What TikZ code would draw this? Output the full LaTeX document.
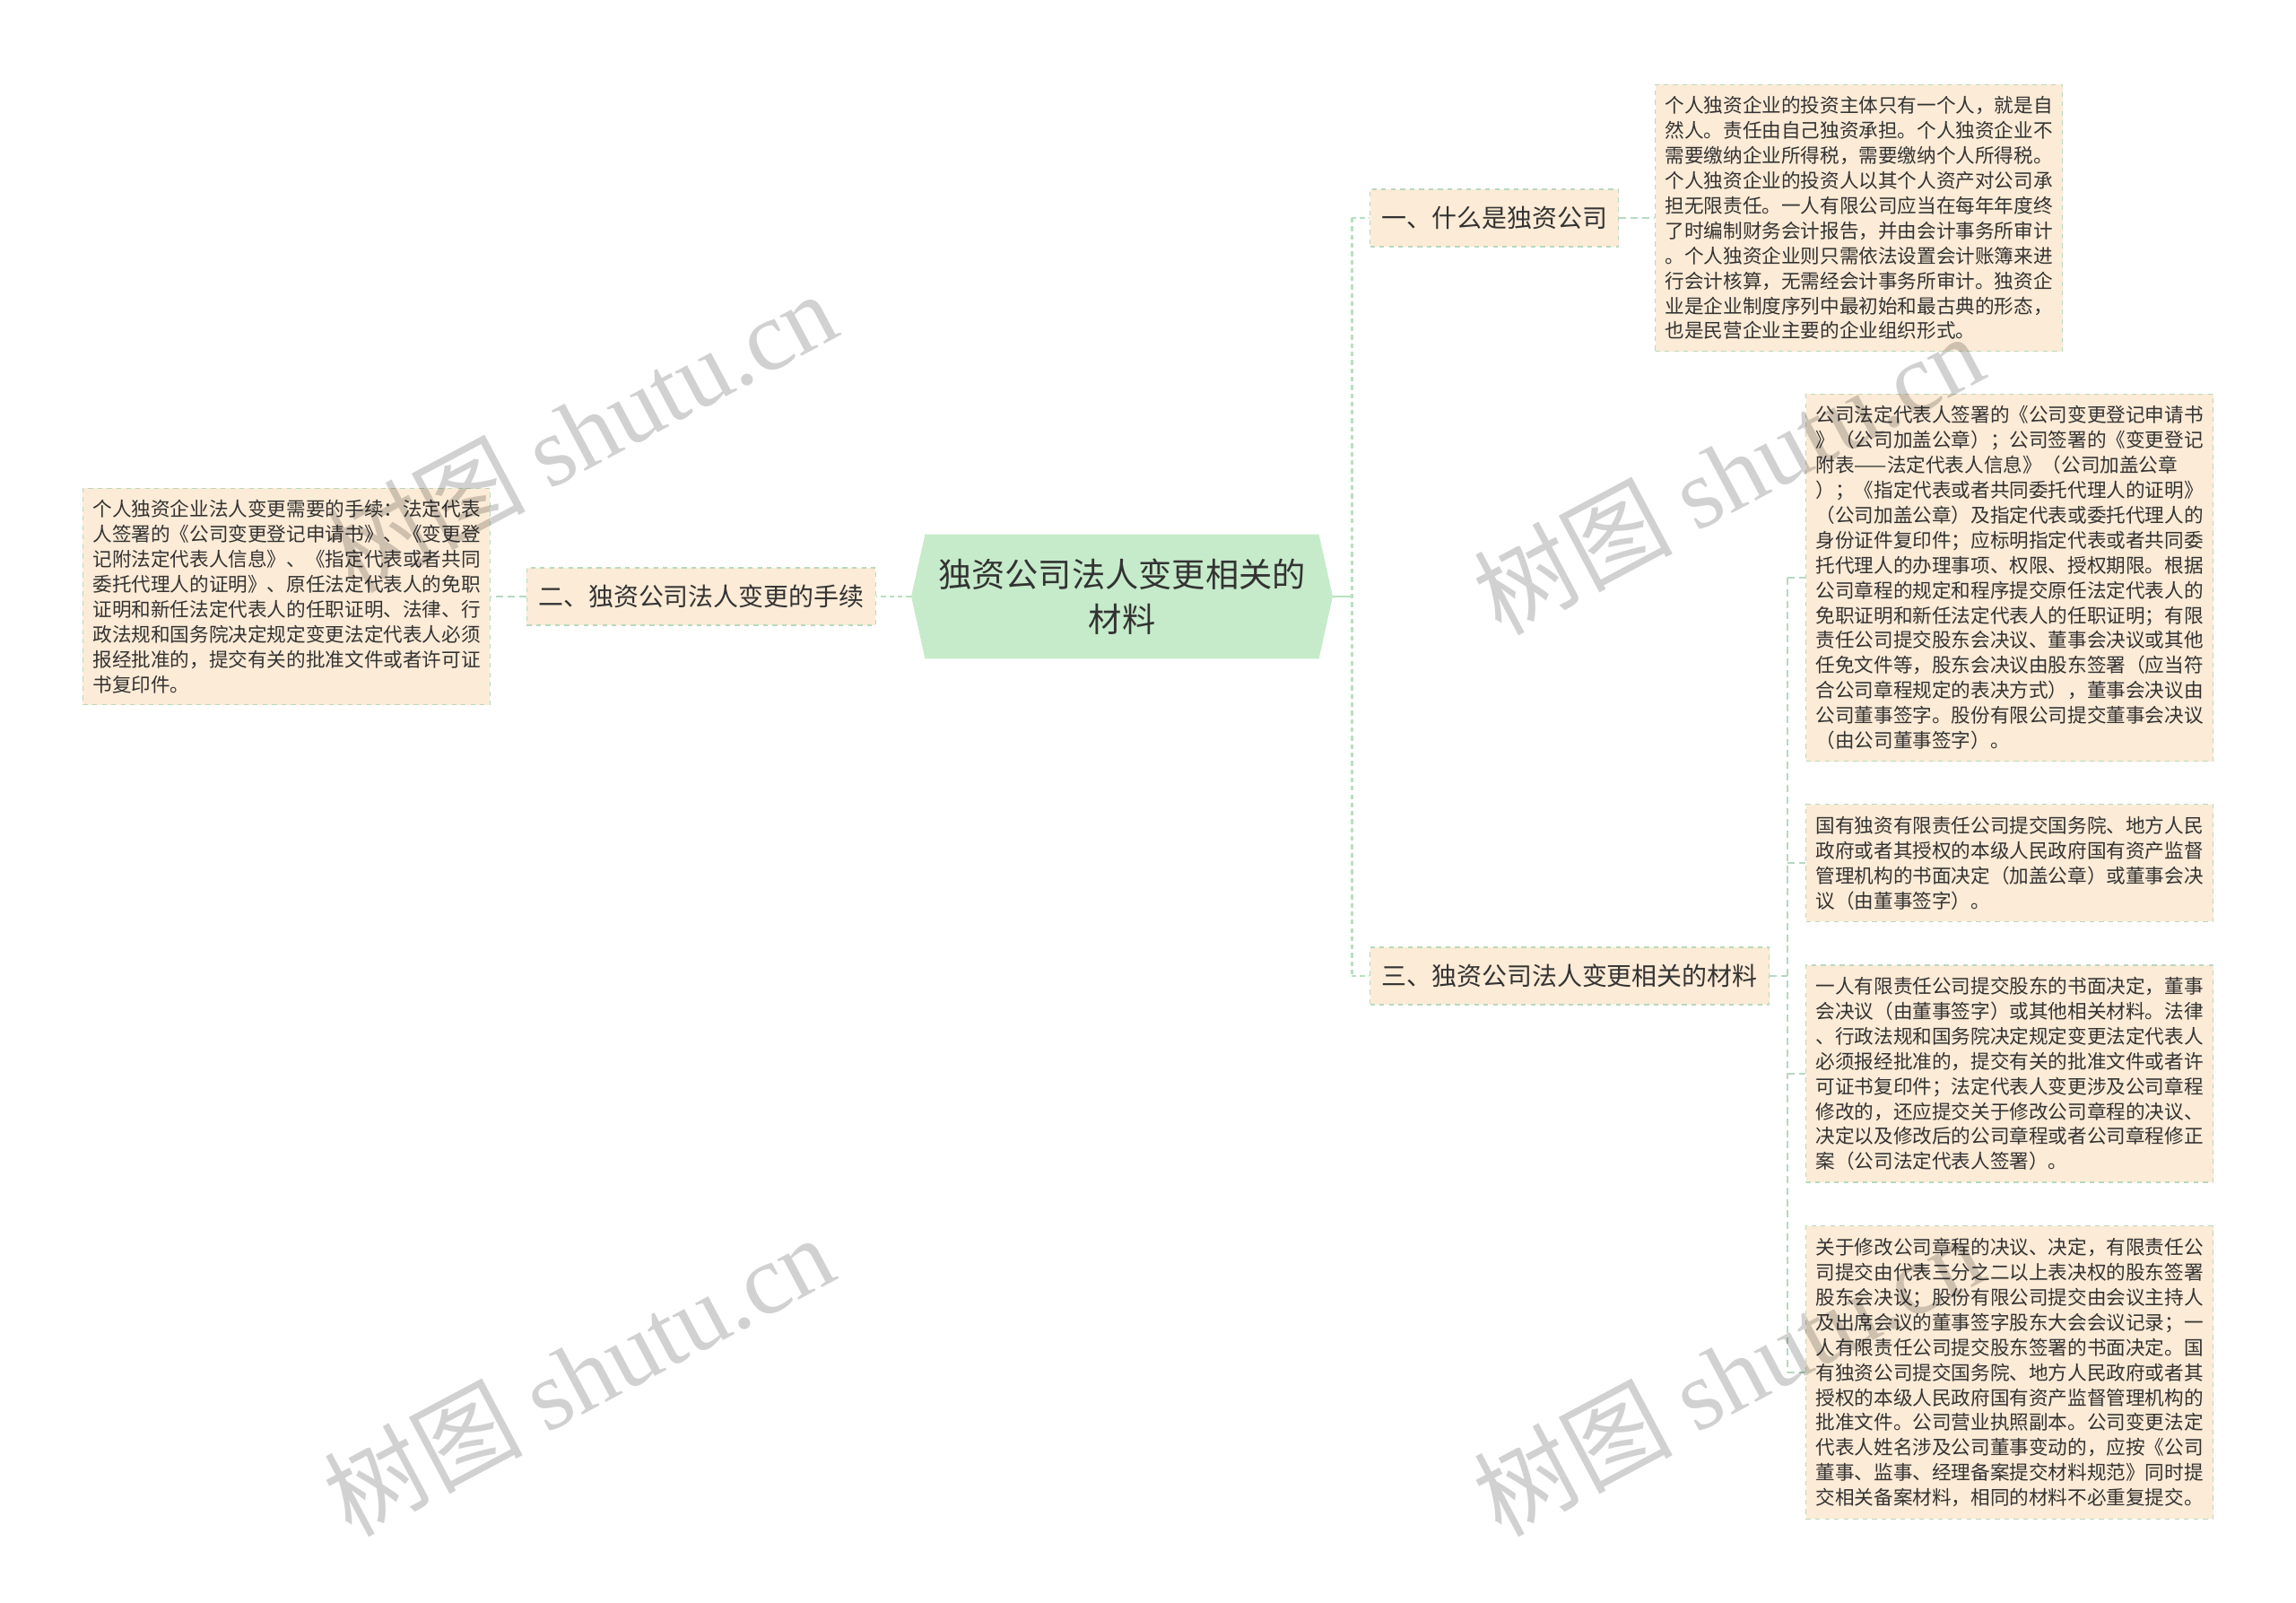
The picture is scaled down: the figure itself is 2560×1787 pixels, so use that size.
\documentclass[tikz,border=0pt]{standalone}
\usepackage{fontspec}
\setmainfont{Noto Sans CJK SC}
\newfontfamily\wmfont{Liberation Serif}
\usetikzlibrary{shapes.symbols}
\definecolor{rootfill}{HTML}{C6EBCA}
\definecolor{leaffill}{HTML}{FCEBD6}
\definecolor{leafborder}{HTML}{B7D9BF}
\definecolor{linkgreen}{HTML}{B5E2BC}
\definecolor{txtgray}{HTML}{333333}

\tikzset{
  rootnode/.style={shape=signal, signal to=west and east, signal pointer angle=155,
    fill=rootfill, text=txtgray, align=center, minimum width=9.4cm, minimum height=2.78cm,
    inner sep=2pt, font=\fontsize{21.2}{28.8}\selectfont},
  branchnode/.style={fill=leaffill, draw=leafborder, dashed, line width=0.6pt, text=txtgray,
    minimum height=1.28cm, inner xsep=7.4pt, font=\fontsize{15.9}{18}\selectfont},
  leafnode/.style={fill=leaffill, draw=leafborder, dashed, line width=0.6pt, text=txtgray,
    align=left, text width=8.64cm, inner xsep=6.3pt, inner ysep=7.4pt,
    font=\fontsize{12.3}{15.9}\selectfont},
  rootline/.style={draw=linkgreen, line width=1.7pt, dash pattern=on 3pt off 2.3pt},
  leafline/.style={draw=leafborder, line width=0.85pt, dash pattern=on 4.5pt off 2.8pt},
  wmark/.style={text=black, text opacity=0.18, rotate=28,
    font=\fontsize{63}{65}\selectfont}
}

\begin{document}
\begin{tikzpicture}[x=0.02cm,y=-0.02cm,line join=round]
    \useasboundingbox (0,0) rectangle (2560,1787);
    % centre and main branches
    \node[rootnode] (root) at (1251,665) {独资公司法人变更相关的\\材料};
    \node[branchnode,anchor=west] (br1) at (1527,243) {一、什么是独资公司};
    \node[branchnode,anchor=east] (br2) at (977,665) {二、独资公司法人变更的手续};
    \node[branchnode,anchor=west] (br3) at (1527,1088) {三、独资公司法人变更相关的材料};
    % leaves
    \node[leafnode,anchor=west] (lf1) at (1845,243) {个人独资企业的投资主体只有一个人，就是自\\
      然人。责任由自己独资承担。个人独资企业不\\
      需要缴纳企业所得税，需要缴纳个人所得税。\\
      个人独资企业的投资人以其个人资产对公司承\\
      担无限责任。一人有限公司应当在每年年度终\\
      了时编制财务会计报告，并由会计事务所审计\\
      。个人独资企业则只需依法设置会计账簿来进\\
      行会计核算，无需经会计事务所审计。独资企\\
      业是企业制度序列中最初始和最古典的形态，\\
      也是民营企业主要的企业组织形式。};
    \node[leafnode,anchor=east] (lf2) at (547,665) {个人独资企业法人变更需要的手续：法定代表\\
      人签署的《公司变更登记申请书》、《变更登\\
      记附法定代表人信息》、《指定代表或者共同\\
      委托代理人的证明》、原任法定代表人的免职\\
      证明和新任法定代表人的任职证明、法律、行\\
      政法规和国务院决定规定变更法定代表人必须\\
      报经批准的，提交有关的批准文件或者许可证\\
      书复印件。};
    \node[leafnode,anchor=west] (lf3a) at (2013,644) {公司法定代表人签署的《公司变更登记申请书\\
      》（公司加盖公章）；公司签署的《变更登记\\
      附表——法定代表人信息》（公司加盖公章\\
      ）；《指定代表或者共同委托代理人的证明》\\
      （公司加盖公章）及指定代表或委托代理人的\\
      身份证件复印件；应标明指定代表或者共同委\\
      托代理人的办理事项、权限、授权期限。根据\\
      公司章程的规定和程序提交原任法定代表人的\\
      免职证明和新任法定代表人的任职证明；有限\\
      责任公司提交股东会决议、董事会决议或其他\\
      任免文件等，股东会决议由股东签署（应当符\\
      合公司章程规定的表决方式），董事会决议由\\
      公司董事签字。股份有限公司提交董事会决议\\
      （由公司董事签字）。};
    \node[leafnode,anchor=west] (lf3b) at (2013,962) {国有独资有限责任公司提交国务院、地方人民\\
      政府或者其授权的本级人民政府国有资产监督\\
      管理机构的书面决定（加盖公章）或董事会决\\
      议（由董事签字）。};
    \node[leafnode,anchor=west] (lf3c) at (2013,1197) {一人有限责任公司提交股东的书面决定，董事\\
      会决议（由董事签字）或其他相关材料。法律\\
      、行政法规和国务院决定规定变更法定代表人\\
      必须报经批准的，提交有关的批准文件或者许\\
      可证书复印件；法定代表人变更涉及公司章程\\
      修改的，还应提交关于修改公司章程的决议、\\
      决定以及修改后的公司章程或者公司章程修正\\
      案（公司法定代表人签署）。};
    \node[leafnode,anchor=west] (lf3d) at (2013,1530) {关于修改公司章程的决议、决定，有限责任公\\
      司提交由代表三分之二以上表决权的股东签署\\
      股东会决议；股份有限公司提交由会议主持人\\
      及出席会议的董事签字股东大会会议记录；一\\
      人有限责任公司提交股东签署的书面决定。国\\
      有独资公司提交国务院、地方人民政府或者其\\
      授权的本级人民政府国有资产监督管理机构的\\
      批准文件。公司营业执照副本。公司变更法定\\
      代表人姓名涉及公司董事变动的，应按《公司\\
      董事、监事、经理备案提交材料规范》同时提\\
      交相关备案材料，相同的材料不必重复提交。};
    % connectors
    \coordinate (jr) at (1507,665);
    \coordinate (j3) at (1993,1088);
    \draw[draw=linkgreen,line width=1.7pt] (root.east) -- (jr);
    \draw[rootline] (jr |- br1.west) -- (jr |- br3.west);
    \draw[rootline] (jr |- br1.west) -- (br1.west);
    \draw[rootline] (jr |- br3.west) -- (br3.west);
    \draw[rootline] (root.west) -- (br2.east);
    \draw[leafline] (br2.west) -- (lf2.east);
    \draw[leafline] (br1.east) -- (lf1.west);
    \draw[leafline] (br3.east) -- (j3);
    \draw[leafline] (j3 |- lf3a.west) -- (j3 |- lf3d.west);
    \foreach \n in {lf3a,lf3b,lf3c,lf3d}
    \draw[leafline] (j3 |- \n.west) -- (\n.west);
    % watermarks
    \foreach \wx/\wy in {648/480,645/1532,1927/527,1927/1532}
    \node[wmark] at (\wx,\wy) {树图 {\wmfont shutu.cn}};
\end{tikzpicture}
\end{document}
